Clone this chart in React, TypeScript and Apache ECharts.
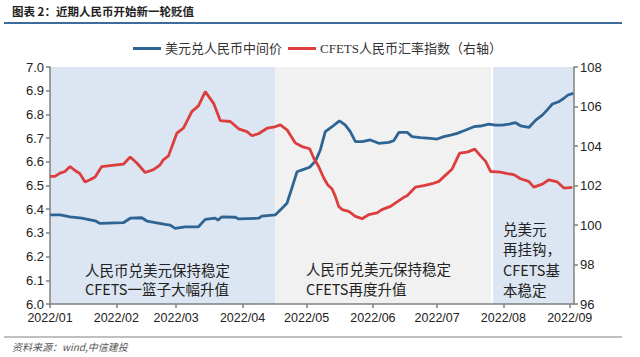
import React, { useEffect, useRef } from "react";
import * as echarts from "echarts";

// Days since 2022-01-01
const monthStartDays = [0, 31, 59, 90, 120, 151, 181, 212, 243];
const monthLabels = ["2022/01", "2022/02", "2022/03", "2022/04", "2022/05", "2022/06", "2022/07", "2022/08", "2022/09"];

const usdDays = [0, 4.7, 9.4, 14.8, 21.1, 23.4, 34.3, 37.5, 42.9, 45.3, 53.8, 56.2, 58.5, 63.2, 69.4, 72.6, 77.2, 78.5, 80.4, 86.6, 88.2, 97.5, 99.1, 105.3, 108.5, 110.8, 113.2, 115.5, 118.6, 121.4, 124.1, 126.4, 128.7, 131.9, 135.3, 138.1, 140.4, 142.8, 145.9, 149.8, 153.7, 158.4, 160.7, 163.1, 167, 169.3, 173.2, 177.9, 181, 184.1, 187.3, 190.4, 193.5, 198.2, 201.3, 205.2, 208.3, 211.5, 214.6, 217.7, 220, 223.9, 227.1, 230.2, 232.5, 234.9, 238, 240.3, 242.2, 244.7];
const usdValues = [6.376, 6.376, 6.368, 6.362, 6.351, 6.34, 6.343, 6.362, 6.364, 6.35, 6.336, 6.333, 6.319, 6.325, 6.326, 6.357, 6.362, 6.354, 6.368, 6.366, 6.359, 6.362, 6.371, 6.376, 6.404, 6.425, 6.492, 6.558, 6.568, 6.577, 6.603, 6.65, 6.727, 6.748, 6.773, 6.755, 6.727, 6.685, 6.685, 6.692, 6.678, 6.682, 6.689, 6.724, 6.724, 6.706, 6.702, 6.699, 6.696, 6.706, 6.713, 6.72, 6.731, 6.748, 6.751, 6.759, 6.755, 6.755, 6.759, 6.765, 6.752, 6.745, 6.776, 6.797, 6.819, 6.844, 6.854, 6.868, 6.882, 6.889];

const cfetsDays = [0, 2.3, 4.7, 7, 9.4, 11.7, 14, 16.4, 18.7, 21.1, 24.2, 28.1, 34.3, 37.5, 40.6, 44.5, 48.4, 51.5, 53, 55.4, 59.3, 62.4, 66.3, 69.4, 72.6, 76.5, 79.6, 84.3, 88.2, 92.1, 94.4, 97.5, 101.5, 104.5, 107.7, 110.8, 114.7, 117.8, 121.4, 123.3, 125.6, 128, 129.8, 131.9, 133.4, 135, 136.6, 139.7, 142.8, 145.9, 149, 152.9, 155.2, 159.2, 162.3, 165.4, 167, 170.9, 174.8, 178.7, 181.8, 185.7, 188.1, 191.5, 195.1, 198.6, 201.3, 203.7, 206, 210.7, 213.8, 216.9, 220, 223.8, 226.2, 230.2, 233.3, 237.2, 240.3, 244.2];
const cfetsValues = [102.46, 102.46, 102.63, 102.71, 102.96, 102.76, 102.6, 102.18, 102.29, 102.43, 102.96, 103.01, 103.08, 103.44, 103.14, 102.66, 102.8, 103.05, 103.3, 103.5, 104.65, 104.9, 105.74, 106.03, 106.75, 106.16, 105.29, 105.24, 104.87, 104.73, 104.52, 104.62, 104.9, 104.95, 105.07, 104.82, 104.15, 103.97, 103.86, 103.39, 102.96, 102.38, 102.04, 101.82, 101.45, 100.94, 100.78, 100.69, 100.44, 100.32, 100.52, 100.61, 100.78, 100.94, 101.17, 101.4, 101.48, 101.92, 101.99, 102.09, 102.21, 102.6, 102.85, 103.64, 103.69, 103.84, 103.5, 103.22, 102.71, 102.68, 102.6, 102.55, 102.34, 102.21, 101.92, 102.07, 102.29, 102.18, 101.87, 101.9];

// Phase periods (day ranges)
const phaseStarts = [0, 105.3, 207.2];
const phaseEnds = [105.3, 206.3, 245];

const seriesNames = ["美元兑人民币中间价", "CFETS人民币汇率指数（右轴）"];
const phaseNotes = ["人民币兑美元保持稳定\nCFETS一篮子大幅升值", "人民币兑美元保持稳定\nCFETS再度升值", "兑美元\n再挂钩，\nCFETS基\n本稳定"];

export default function App() {
  const ref = useRef<HTMLDivElement>(null);
  useEffect(() => {
    if (!ref.current) return;
    const chart = echarts.init(ref.current, null, { renderer: "svg" });
    const axisColor = "#7f7f7f";
    const labelFont = "Liberation Sans, Arial, sans-serif";
    const annFont = "Noto Sans CJK SC, sans-serif";
    const phaseColors = ["#dbe6f2", "#f1f1f1", "#dbe6f2"];
    chart.setOption({
      animation: false,
      backgroundColor: "#ffffff",
      grid: { left: 50, right: 66, top: 67, bottom: 53, containLabel: false },
      legend: {
        left: 128,
        top: 37,
        itemWidth: 28,
        itemHeight: 3,
        itemGap: 6,
        icon: "rect",
        textStyle: { fontSize: 13, color: "#333", fontFamily: "Liberation Serif, Noto Sans CJK SC, serif", padding: [0, 0, 0, -1] },
        data: seriesNames,
      },
      xAxis: {
        type: "value",
        min: 0,
        max: 245,
        splitLine: { show: false },
        axisLine: { lineStyle: { color: axisColor, width: 1.5 } },
        axisTick: { show: true, length: 4, lineStyle: { color: axisColor, width: 1.5 }, customValues: monthStartDays },
        axisLabel: {
          customValues: monthStartDays,
          fontSize: 12.5,
          color: "#222",
          fontFamily: labelFont,
          margin: 7,
          formatter: (v: number) => {
            const i = monthStartDays.indexOf(Math.round(v));
            return i >= 0 ? monthLabels[i] : "";
          },
        },
      },
      yAxis: [
        {
          type: "value",
          min: 6.0,
          max: 7.0,
          interval: 0.1,
          splitLine: { show: false },
          axisLine: { show: true, lineStyle: { color: axisColor, width: 1.5 } },
          axisTick: { show: true, length: 4, lineStyle: { color: axisColor, width: 1.5 } },
          axisLabel: { fontSize: 13, color: "#222", fontFamily: labelFont, margin: 6, formatter: (v: number) => v.toFixed(1) },
        },
        {
          type: "value",
          min: 96,
          max: 108,
          interval: 2,
          position: "right",
          splitLine: { show: false },
          axisLine: { show: true, lineStyle: { color: axisColor, width: 1.5 } },
          axisTick: { show: true, length: 4, lineStyle: { color: axisColor, width: 1.5 } },
          axisLabel: { fontSize: 13, color: "#222", fontFamily: labelFont, margin: 6 },
        },
      ],
      series: [
        {
          name: seriesNames[0],
          type: "line",
          yAxisIndex: 0,
          showSymbol: false,
          symbol: "none",
          z: 3,
          lineStyle: { color: "#2e6494", width: 2.8 },
          itemStyle: { color: "#2e6494" },
          data: usdDays.map((d, i) => [d, usdValues[i]]),
          markArea: {
            silent: true,
            z: 0,
            data: phaseStarts.map((s, i) => [
              { xAxis: s, itemStyle: { color: phaseColors[i] } },
              { xAxis: phaseEnds[i] },
            ]),
          },
        },
        {
          name: seriesNames[1],
          type: "line",
          yAxisIndex: 1,
          showSymbol: false,
          symbol: "none",
          z: 3,
          lineStyle: { color: "#dc3d3d", width: 2.8 },
          itemStyle: { color: "#dc3d3d" },
          data: cfetsDays.map((d, i) => [d, cfetsValues[i]]),
        },
      ],
      graphic: [
        {
          type: "text",
          left: 12,
          top: 5,
          z: 100,
          style: { text: "图表 2：近期人民币开始新一轮贬值", fontSize: 11.5, fontWeight: "bold", fill: "#222", fontFamily: annFont },
        },
        { type: "line", z: 100, shape: { x1: 4, y1: 23, x2: 622, y2: 23 }, style: { stroke: "#3d6c98", lineWidth: 2 } },
        { type: "line", z: 100, shape: { x1: 4, y1: 337, x2: 622, y2: 337 }, style: { stroke: "#c0c0c0", lineWidth: 2 } },
        {
          type: "text",
          left: 12,
          top: 341,
          z: 100,
          style: { text: "资料来源：wind,中信建投", fontSize: 10, fontStyle: "italic", fill: "#555", fontFamily: annFont },
        },
        {
          type: "text",
          left: 85,
          top: 260,
          z: 100,
          style: { text: phaseNotes[0], fontSize: 14.5, lineHeight: 19, fill: "#222", fontFamily: annFont },
        },
        {
          type: "text",
          left: 306,
          top: 258,
          z: 100,
          style: { text: phaseNotes[1], fontSize: 14.5, lineHeight: 20, fill: "#222", fontFamily: annFont },
        },
        {
          type: "text",
          left: 503,
          top: 218,
          z: 100,
          style: { text: phaseNotes[2], fontSize: 14.5, lineHeight: 20.5, fill: "#222", fontFamily: annFont },
        },
      ],
    });
    return () => chart.dispose();
  }, []);
  return <div ref={ref} style={{ position: "fixed", left: 0, top: 0, width: 640, height: 357 }} />;
}
